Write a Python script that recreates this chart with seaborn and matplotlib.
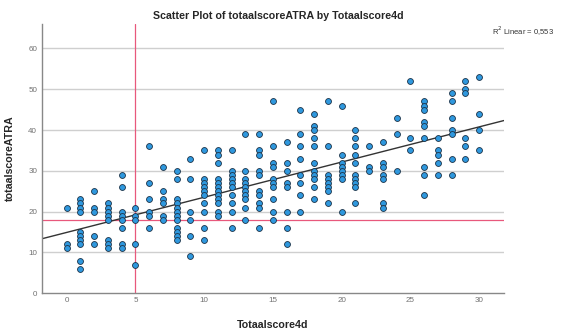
import pandas as pd
import numpy as np
import matplotlib
matplotlib.use('Agg')
import matplotlib.pyplot as plt
import seaborn as sns

# Totaalscore4d waarden per kolom en de bijbehorende totaalscoreATRA
atra_per_score = {
    0: [21, 12, 11],
    1: [23, 22, 21, 20, 15, 14, 13, 12, 8, 6],
    2: [25, 21, 20, 14, 12],
    3: [22, 21, 20, 19, 18, 13, 12, 11],
    4: [29, 26, 20, 19, 18, 16, 12, 11],
    5: [21, 19, 18, 12, 7],
    6: [36, 27, 23, 20, 19, 16],
    7: [31, 25, 23, 22, 19, 18],
    8: [30, 28, 23, 22, 21, 20, 19, 18, 16, 15, 14, 13],
    9: [33, 28, 20, 18, 14, 9],
    10: [35, 28, 27, 26, 25, 24, 22, 20, 16, 13],
    11: [35, 34, 32, 28, 27, 26, 25, 24, 23, 22, 20, 19],
    12: [35, 30, 29, 28, 27, 26, 24, 22, 20, 16],
    13: [39, 30, 28, 27, 26, 25, 24, 23, 21, 18],
    14: [39, 35, 34, 30, 29, 25, 24, 22, 21, 16],
    15: [47, 36, 32, 31, 28, 27, 26, 23, 20, 18],
    16: [37, 32, 30, 27, 26, 20, 16, 12],
    17: [45, 39, 36, 33, 29, 27, 24, 20],
    18: [44, 41, 40, 38, 36, 32, 30, 29, 28, 26, 23],
    19: [47, 36, 29, 28, 27, 26, 25, 22],
    20: [46, 34, 32, 31, 30, 29, 28, 20],
    21: [40, 38, 36, 34, 32, 29, 28, 27, 26, 22],
    22: [36, 31, 30],
    23: [37, 32, 31, 29, 28, 22, 21],
    24: [43, 39, 30],
    25: [52, 38, 35],
    26: [47, 46, 45, 42, 41, 38, 31, 29, 24],
    27: [38, 35, 34, 32, 29],
    28: [49, 47, 43, 40, 39, 33, 29],
    29: [52, 50, 49, 38, 36, 33],
    30: [53, 44, 40, 35],
}
score4d = [k for k, v in atra_per_score.items() for _ in v]
atra = [y for v in atra_per_score.values() for y in v]
df = pd.DataFrame({'Totaalscore4d': score4d, 'totaalscoreATRA': atra})

x_ticks = [0, 5, 10, 15, 20, 25, 30]
y_ticks = [0, 10, 20, 30, 40, 50, 60]
ref_x = 5
ref_y = 18
r2_label = 'R$^2$ Linear = 0,553'

sns.set_style('white')
plt.rcParams['font.family'] = ['Liberation Sans', 'DejaVu Sans']

fig = plt.figure(figsize=(5.62, 3.29), dpi=100)
ax = fig.add_axes([0.0747, 0.109, 0.822, 0.818])

ax.set_xlim(-1.8, 31.8)
ax.set_ylim(0, 66)

# horizontale rasterlijnen
for yv in y_ticks[1:]:
    ax.axhline(yv, color='#cfcfcf', lw=1, zorder=0)

# referentielijnen
ax.axvline(ref_x, color='#e8587c', lw=0.9, zorder=1)
ax.axhline(ref_y, color='#e8587c', lw=0.9, zorder=1)

# regressielijn
sns.regplot(data=df, x='Totaalscore4d', y='totaalscoreATRA', scatter=False,
            ci=None, truncate=False, ax=ax,
            line_kws={'color': '#333333', 'lw': 1, 'zorder': 2})

sns.scatterplot(data=df, x='Totaalscore4d', y='totaalscoreATRA', ax=ax,
                color='#2f98de', edgecolor='#1b3247', linewidth=0.6, s=18,
                zorder=3)

ax.set_xlim(-1.8, 31.8)
ax.set_ylim(0, 66)
ax.set_xticks(x_ticks)
ax.set_yticks(y_ticks)
ax.tick_params(axis='both', length=0, labelsize=5.8, colors='#707070')
ax.tick_params(axis='x', pad=3)
ax.tick_params(axis='y', pad=3.5)

for side in ['top', 'right']:
    ax.spines[side].set_visible(False)
for side in ['left', 'bottom']:
    ax.spines[side].set_color('#888888')
    ax.spines[side].set_linewidth(1)

ax.set_xlabel('Totaalscore4d', fontsize=7.7, fontweight='bold')
ax.set_ylabel('totaalscoreATRA', fontsize=7.7, fontweight='bold')
ax.xaxis.set_label_coords(0.5, -0.10)
ax.yaxis.set_label_coords(-0.058, 0.5)
fig.text(0.496, 0.951, 'Scatter Plot of totaalscoreATRA by Totaalscore4d',
         ha='center', va='center', fontsize=7.7, fontweight='bold')
fig.text(0.985, 0.905, r2_label, ha='right', va='center', fontsize=5.5,
         color='#333333')

fig.savefig('out.png', dpi=100)
